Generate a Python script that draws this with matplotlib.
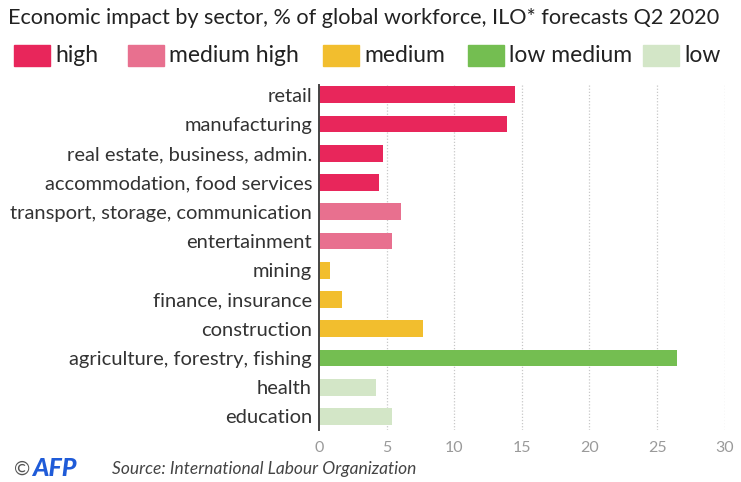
import matplotlib.pyplot as plt
import matplotlib.patches as mpatches

plt.rcParams['font.family'] = ['Lato', 'DejaVu Sans']

sectors = ["retail", "manufacturing", "real estate, business, admin.",
           "accommodation, food services", "transport, storage, communication",
           "entertainment", "mining", "finance, insurance", "construction",
           "agriculture, forestry, fishing", "health", "education"]
share = [14.5, 13.9, 4.7, 4.4, 6.1, 5.4, 0.8, 1.7, 7.7, 26.5, 4.2, 5.4]
impact = ["high", "high", "high", "high", "medium high", "medium high",
          "medium", "medium", "medium", "low medium", "low", "low"]

levels = ["high", "medium high", "medium", "low medium", "low"]
level_colors = ["#E8265B", "#E8708F", "#F2BE2E", "#74BE51", "#D3E6C7"]
xticks = [0, 5, 10, 15, 20, 25, 30]

color_of = dict(zip(levels, level_colors))

fig = plt.figure(figsize=(7.41, 4.82), dpi=100)
ax = fig.add_axes([0.4305, 0.108, 0.978 - 0.4305, 0.716])

ypos = list(range(len(sectors)))
ax.barh(ypos, share, height=0.57, color=[color_of[i] for i in impact], zorder=2)

ax.set_xlim(0, 30)
ax.set_ylim(len(sectors) - 1 + 0.46, -0.34)
ax.set_yticks(ypos)
ax.set_yticklabels(sectors, fontsize=14.5, color="#333333")
ax.set_xticks(xticks)
ax.set_xticklabels([str(t) for t in xticks], fontsize=11.5, color="#9a9a9a")
ax.tick_params(length=0, pad=5)
ax.tick_params(axis="x", pad=8)

for s in ["top", "right", "bottom"]:
    ax.spines[s].set_visible(False)
ax.spines["left"].set_color("#444444")
ax.spines["left"].set_linewidth(1.4)
ax.spines["left"].set_zorder(3)

for t in xticks[1:]:
    ax.axvline(t, color="#c8c8c8", lw=0.9, ls=(0, (1, 1.5)), zorder=1)

# title
fig.text(0.011, 0.962, "Economic impact by sector, % of global workforce, ILO* forecasts Q2 2020",
         fontsize=15.6, color="#222222", va="center", ha="left")

# legend row
patch_x = [14, 128, 323, 468, 643]
for lvl, col, px in zip(levels, level_colors, patch_x):
    fig.patches.append(mpatches.Rectangle((px / 741, 1 - 66 / 482), 36 / 741, 21 / 482,
                                          transform=fig.transFigure, color=col))
    fig.text((px + 41) / 741, 1 - 56 / 482, lvl, fontsize=16.5, color="#222222",
             va="center", ha="left")

# footer
fig.text(14 / 741, 1 - 469 / 482, "©", fontsize=14, color="#555555", va="center")
fig.text(32 / 741, 1 - 469 / 482, "AFP", fontsize=18, color="#1F5BD8",
         fontweight="black", fontstyle="italic", va="center")
fig.text(112 / 741, 1 - 469 / 482, "Source: International Labour Organization",
         fontsize=12.5, color="#444444", fontstyle="italic", va="center")

fig.savefig("out.png", dpi=100)
